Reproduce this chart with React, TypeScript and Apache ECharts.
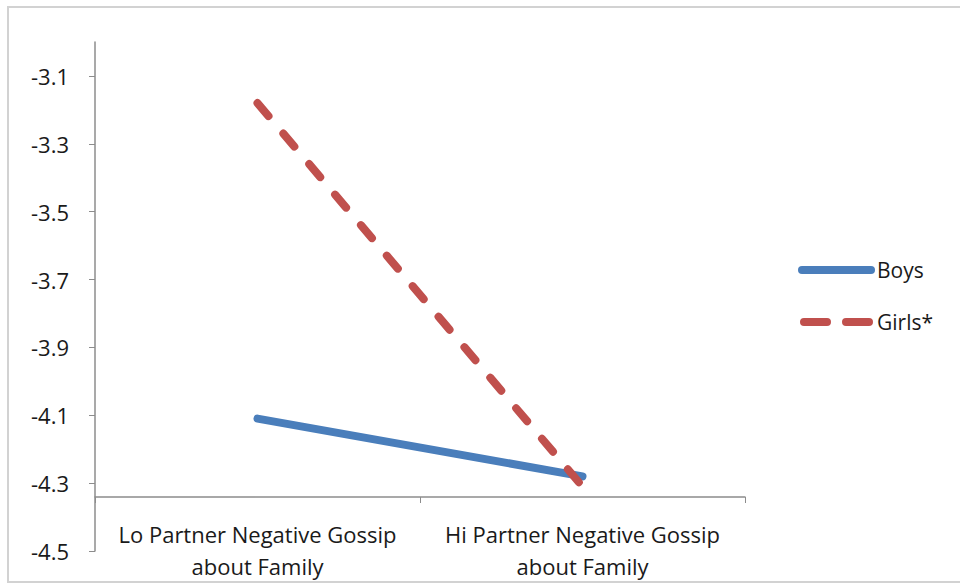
import React, { useEffect, useRef } from "react";
import * as echarts from "echarts";

const categories = ["Lo Partner Negative Gossip\nabout Family", "Hi Partner Negative Gossip\nabout Family"];
const boys = [-4.11, -4.28];
const girls = [-3.18, -4.31];
const yTicks = [-4.5, -4.3, -4.1, -3.9, -3.7, -3.5, -3.3, -3.1];
const seriesNames = ["Boys", "Girls*"];

const FONT = "'Open Sans', Lato, sans-serif";
const TEXT = "#1a1a1a";
const AXIS = "#8c8c8c";
const BLUE = "#4a7ebb";
const RED = "#c0504d";

const SOLID_ICON = "path://M4,0 L73,0 A4,4 0 0 1 73,8 L4,8 A4,4 0 0 1 4,0 Z";
const DASH_ICON =
  "path://M4,0 L27,0 A4,4 0 0 1 27,8 L4,8 A4,4 0 0 1 4,0 Z M46,0 L69,0 A4,4 0 0 1 69,8 L46,8 A4,4 0 0 1 46,0 Z";

export default function App() {
  const ref = useRef<HTMLDivElement>(null);
  useEffect(() => {
    if (!ref.current) return;
    const chart = echarts.init(ref.current, null, { renderer: "svg" });
    chart.setOption({
      animation: false,
      backgroundColor: "#ffffff",
      graphic: [
        {
          type: "rect",
          shape: { x: 8, y: 7, width: 970, height: 575 },
          style: { fill: "none", stroke: "#d2d2d2", lineWidth: 2 },
          silent: true,
        },
      ],
      grid: { left: 95, right: 215, top: 42, bottom: 34 },
      legend: {
        orient: "vertical",
        left: 793,
        top: 251,
        itemWidth: 77,
        itemHeight: 8,
        itemGap: 24,
        textStyle: { fontFamily: FONT, fontSize: 21, color: TEXT, padding: [0, 0, 0, -3], lineHeight: 28 },
        data: [
          { name: seriesNames[0], icon: SOLID_ICON, itemStyle: { color: BLUE } },
          { name: seriesNames[1], icon: DASH_ICON, itemStyle: { color: RED } },
        ],
      },
      xAxis: {
        type: "category",
        data: categories,
        boundaryGap: true,
        offset: -54,
        axisLine: { lineStyle: { color: AXIS, width: 1.5 } },
        axisTick: { show: true, interval: 0, length: 6, lineStyle: { color: AXIS } },
        axisLabel: {
          interval: 0,
          fontFamily: FONT,
          fontSize: 22,
          color: TEXT,
          lineHeight: 32,
          margin: 21,
          align: "center",
        },
      },
      yAxis: {
        type: "value",
        min: -4.5,
        max: -3.0,
        splitLine: { show: false },
        axisLine: { show: true, lineStyle: { color: AXIS, width: 1.5 } },
        axisTick: { show: true, length: 6, lineStyle: { color: AXIS }, customValues: yTicks },
        axisLabel: {
          fontFamily: FONT,
          fontSize: 22,
          color: TEXT,
          margin: 26,
          customValues: yTicks,
          formatter: (v: number) => v.toFixed(1),
        },
      },
      series: [
        {
          name: seriesNames[0],
          type: "line",
          data: boys,
          symbol: "none",
          color: BLUE,
          lineStyle: { color: BLUE, width: 8, cap: "round", join: "round" },
        },
        {
          name: seriesNames[1],
          type: "line",
          data: girls,
          symbol: "none",
          color: RED,
          lineStyle: { color: RED, width: 8, type: [17, 23], cap: "round", join: "round" },
        },
      ],
    });
    return () => chart.dispose();
  }, []);
  return (
    <div
      ref={ref}
      style={{ position: "fixed", left: 0, top: 0, width: 960, height: 585 }}
    />
  );
}
